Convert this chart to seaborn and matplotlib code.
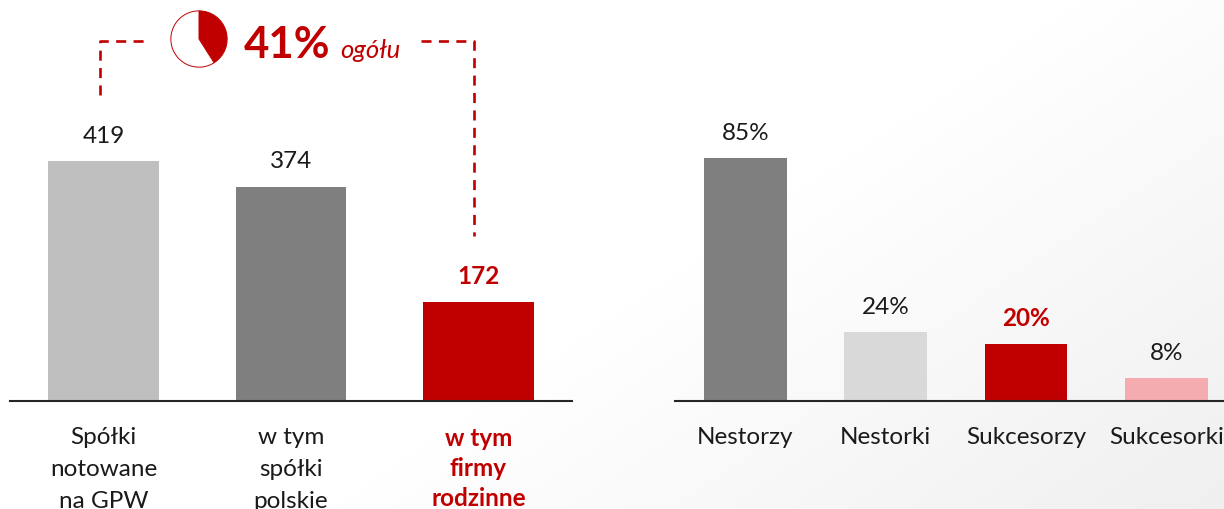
import numpy as np
import pandas as pd
import seaborn as sns
import matplotlib.pyplot as plt

# Dane
spolki_labels = ["Spółki\nnotowane\nna GPW", "w tym\nspółki\npolskie", "w tym\nfirmy\nrodzinne"]
spolki_values = [419, 374, 172]
spolki_colors = ["#bfbfbf", "#7f7f7f", "#c00000"]

osoby_labels = ["Nestorzy", "Nestorki", "Sukcesorzy", "Sukcesorki"]
osoby_values = [85, 24, 20, 8]
osoby_colors = ["#7f7f7f", "#d9d9d9", "#c00000", "#f4acb0"]

udzial = [41, 59]
RED = "#c00000"
W, H = 1224, 510
FS = 17.5

sns.set_theme(style="white")
plt.rcParams["font.family"] = ["Lato", "DejaVu Sans"]

fig = plt.figure(figsize=(W / 100, H / 100), dpi=100, facecolor="white")


def make_axes(x0, x1, y0, y1):
    return fig.add_axes([x0 / W, 1 - y1 / H, (x1 - x0) / W, (y1 - y0) / H])


# Tlo (gradient) i linie przerywane w pikselach
bg = make_axes(0, W, 0, H)
xx, yy = np.meshgrid(np.linspace(0, 1, 306), np.linspace(0, 1, 128))
grad = np.clip((0.62 * xx + 0.38 * yy - 0.52) / 0.48, 0, 1)
bg.imshow(grad, extent=(0, W, H, 0), aspect="auto", cmap="gray_r", vmin=0, vmax=15.5)
bg.set_xlim(0, W)
bg.set_ylim(H, 0)
bg.axis("off")
bg.plot([100, 100, 148], [96, 42, 42], color=RED, lw=1.9, dashes=(3.8, 2.8))
bg.plot([421, 474, 474], [42, 42, 237], color=RED, lw=1.9, dashes=(3.8, 2.8))
bg.text(244, 45, "41%", color=RED, fontsize=31.5, fontweight="bold", va="center", ha="left")
bg.text(340, 51, "ogółu", color=RED, fontsize=18.5, fontstyle="italic", va="center", ha="left")


def draw_bars(ax, labels, values, colors, width, ymax, xmax, red_idx):
    df = pd.DataFrame({"kat": labels, "val": values})
    sns.barplot(data=df, x="kat", y="val", hue="kat", palette=colors, dodge=False,
                width=width, saturation=1, legend=False, linewidth=0, ax=ax)
    ax.set_xlim(-0.5, xmax)
    ax.set_ylim(0, ymax)
    ax.set_xlabel("")
    ax.set_ylabel("")
    ax.set_yticks([])
    ax.patch.set_alpha(0)
    sns.despine(ax=ax, left=True)
    ax.spines["bottom"].set_color("#262626")
    ax.spines["bottom"].set_linewidth(1.5)
    ax.tick_params(axis="x", length=0, pad=18, labelsize=FS)
    for lab in ax.get_xticklabels():
        lab.set_linespacing(1.65)
        lab.set_color("#1a1a1a")
    if red_idx is not None:
        lab = ax.get_xticklabels()[red_idx]
        lab.set_color(RED)
        lab.set_fontweight("bold")
        lab.set_linespacing(1.36)


# Lewy wykres
ax1 = make_axes(10, 572, 0, 402)
draw_bars(ax1, spolki_labels, spolki_values, spolki_colors, 0.59, 402 / 0.573, 2.5, 2)
for i, c in enumerate(ax1.containers):
    red = i == 2
    ax1.bar_label(c, labels=[str(spolki_values[i])], padding=11, fontsize=FS,
                  color=RED if red else "#1a1a1a", fontweight="bold" if red else "normal")

# Prawy wykres
ax2 = make_axes(675, W, 0, 402)
draw_bars(ax2, osoby_labels, osoby_values, osoby_colors, 0.59, 402 / 2.855, 3.41, None)
for i, c in enumerate(ax2.containers):
    red = i == 2
    ax2.bar_label(c, labels=[f"{osoby_values[i]}%"], padding=11, fontsize=FS,
                  color=RED if red else "#1a1a1a", fontweight="bold" if red else "normal")

# Kolko 41%
ax3 = make_axes(170, 228, 11, 69)
ax3.pie(udzial, colors=[RED, "white"], startangle=90, counterclock=False, radius=1,
        wedgeprops={"edgecolor": RED, "linewidth": 0.7})
ax3.set_xlim(-1.03, 1.03)
ax3.set_ylim(-1.03, 1.03)

fig.savefig("out.png", dpi=100)
plt.close()
